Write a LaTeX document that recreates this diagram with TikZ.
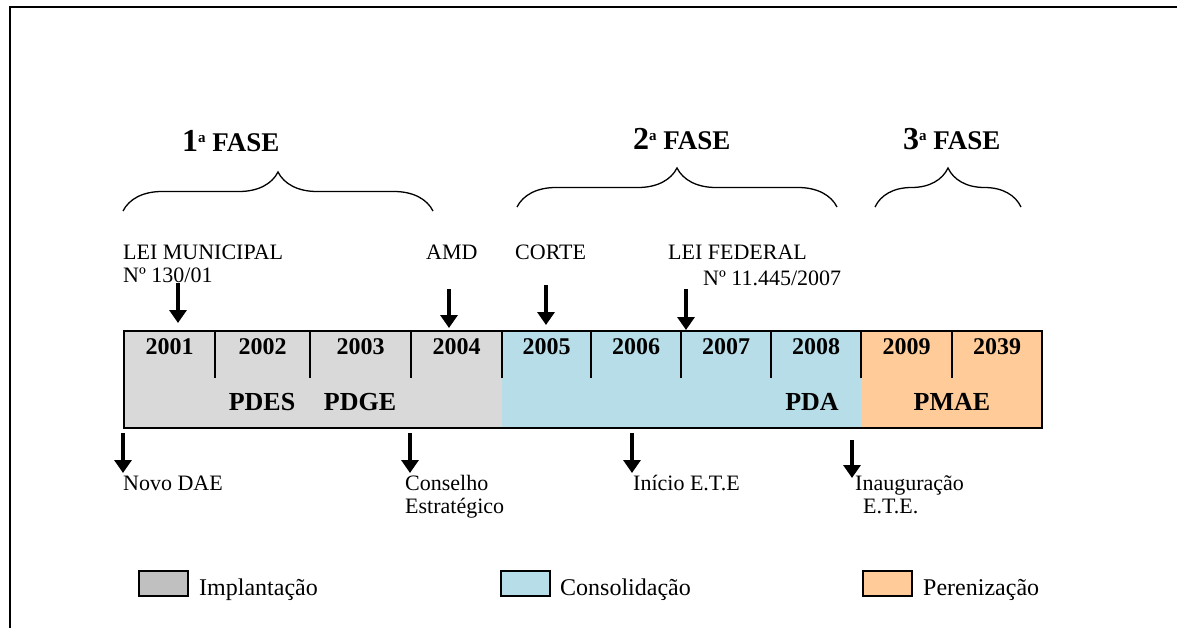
\documentclass[tikz,border=0pt]{standalone}
\usepackage{fontspec}
\setmainfont{Liberation Serif}
\usetikzlibrary{arrows.meta,decorations.pathreplacing}
\definecolor{implgray}{RGB}{217,217,217}
\definecolor{legendgray}{RGB}{192,192,192}
\definecolor{consblue}{RGB}{183,221,232}
\definecolor{perenorange}{RGB}{255,204,153}
\begin{document}
\begin{tikzpicture}[
    x=1pt, y=-1pt,
    year/.style={inner sep=0, font=\fontsize{24}{28}\selectfont\bfseries},
    plan/.style={inner sep=0, font=\fontsize{26}{30}\selectfont\bfseries},
    phase/.style={anchor=base west, inner sep=0, font=\fontsize{27}{30}\selectfont\bfseries},
    event/.style={anchor=base west, inner sep=0, align=left, font=\fontsize{22}{23}\selectfont},
    legendtext/.style={anchor=base west, inner sep=0, font=\fontsize{24}{26}\selectfont},
    legendbox/.style={draw, line width=1.5pt},
    marker/.style={line width=4.5pt, -{Triangle[width=17pt,length=13pt]}},
    phasebrace/.style={decorate, decoration={brace, amplitude=39pt}, line width=1.3pt}
]
    \useasboundingbox (0,0) rectangle (1177,628);
    \draw[line width=2pt] (10,628) -- (10,7) -- (1177,7);

    \node[phase] (fase1) at (182,152) {{\fontsize{32}{36}\selectfont 1}\raisebox{9pt}{\fontsize{15}{15}\selectfont a} FASE};
    \node[phase] (fase2) at (633,150) {{\fontsize{32}{36}\selectfont 2}\raisebox{9pt}{\fontsize{15}{15}\selectfont a} FASE};
    \node[phase] (fase3) at (903,150) {{\fontsize{32}{36}\selectfont 3}\raisebox{9pt}{\fontsize{15}{15}\selectfont a} FASE};

    \draw[phasebrace] (123,211) -- (433,211);
    \draw[phasebrace] (517,207) -- (837,207);
    \draw[phasebrace] (875,207) -- (1021,207);

    \node[event] (leiM) at (123,282) {LEI MUNICIPAL\\Nº 130/01};
    \node[event] (amd) at (426,259) {AMD};
    \node[event] (corte) at (515,259) {CORTE};
    \node[event] (leiF) at (668,285) {LEI FEDERAL\\[3pt]\hspace*{35pt}Nº 11.445/2007};

    \fill[implgray] (124,331) rectangle (502,428);
    \fill[consblue] (502,331) rectangle (861,428);
    \fill[perenorange] (861,331) rectangle (1042,428);
    \draw[line width=2pt] (124,331) rectangle (1042,428);
    \foreach \x in {215,310,411,502,591,681,771,861,952}
        \draw[line width=2pt] (\x,331) -- (\x,378);

    \node[year] (y2001) at (169.5,347) {2001};
    \node[year] (y2002) at (262.5,347) {2002};
    \node[year] (y2003) at (360.5,347) {2003};
    \node[year] (y2004) at (456.5,347) {2004};
    \node[year] (y2005) at (546.5,347) {2005};
    \node[year] (y2006) at (636,347) {2006};
    \node[year] (y2007) at (726,347) {2007};
    \node[year] (y2008) at (816,347) {2008};
    \node[year] (y2009) at (906.5,347) {2009};
    \node[year] (y2039) at (997,347) {2039};

    \node[plan] (pdes) at (262,402) {PDES};
    \node[plan] (pdge) at (360,402) {PDGE};
    \node[plan] (pda) at (812,402) {PDA};
    \node[plan] (pmae) at (952,402) {PMAE};

    \coordinate (leiMtop) at (178,283);   \coordinate (leiMtip) at (178,323);
    \coordinate (amdtop) at (449,289);    \coordinate (amdtip) at (449,328);
    \coordinate (cortetop) at (546,285);  \coordinate (cortetip) at (546,325);
    \coordinate (leiFtop) at (686,289);   \coordinate (leiFtip) at (686,330);
    \draw[marker] (leiMtop) -- (leiMtip);
    \draw[marker] (amdtop) -- (amdtip);
    \draw[marker] (cortetop) -- (cortetip);
    \draw[marker] (leiFtop) -- (leiFtip);

    \coordinate (novotop) at (123,433);     \coordinate (novotip) at (123,473);
    \coordinate (conselhotop) at (410,433); \coordinate (conselhotip) at (410,473);
    \coordinate (iniciotop) at (632,433);   \coordinate (iniciotip) at (632,473);
    \coordinate (inaugtop) at (852,440);    \coordinate (inaugtip) at (852,478);
    \draw[marker] (novotop) -- (novotip);
    \draw[marker] (conselhotop) -- (conselhotip);
    \draw[marker] (iniciotop) -- (iniciotip);
    \draw[marker] (inaugtop) -- (inaugtip);

    \node[event] (novo) at (123,490) {Novo DAE};
    \node[event] (conselho) at (405,513) {Conselho\\Estratégico};
    \node[event] (inicio) at (633,490) {Início E.T.E};
    \node[event] (inaug) at (855,513) {Inauguração\\\hspace*{8pt}E.T.E.};

    \draw[legendbox, fill=legendgray] (139,571) rectangle (188,596);
    \node[legendtext] (implant) at (199,595) {Implantação};
    \draw[legendbox, fill=consblue] (501,571) rectangle (550,596);
    \node[legendtext] (consol) at (560,595) {Consolidação};
    \draw[legendbox, fill=perenorange] (863,571) rectangle (912,596);
    \node[legendtext] (perenz) at (923,595) {Perenização};
\end{tikzpicture}
\end{document}
